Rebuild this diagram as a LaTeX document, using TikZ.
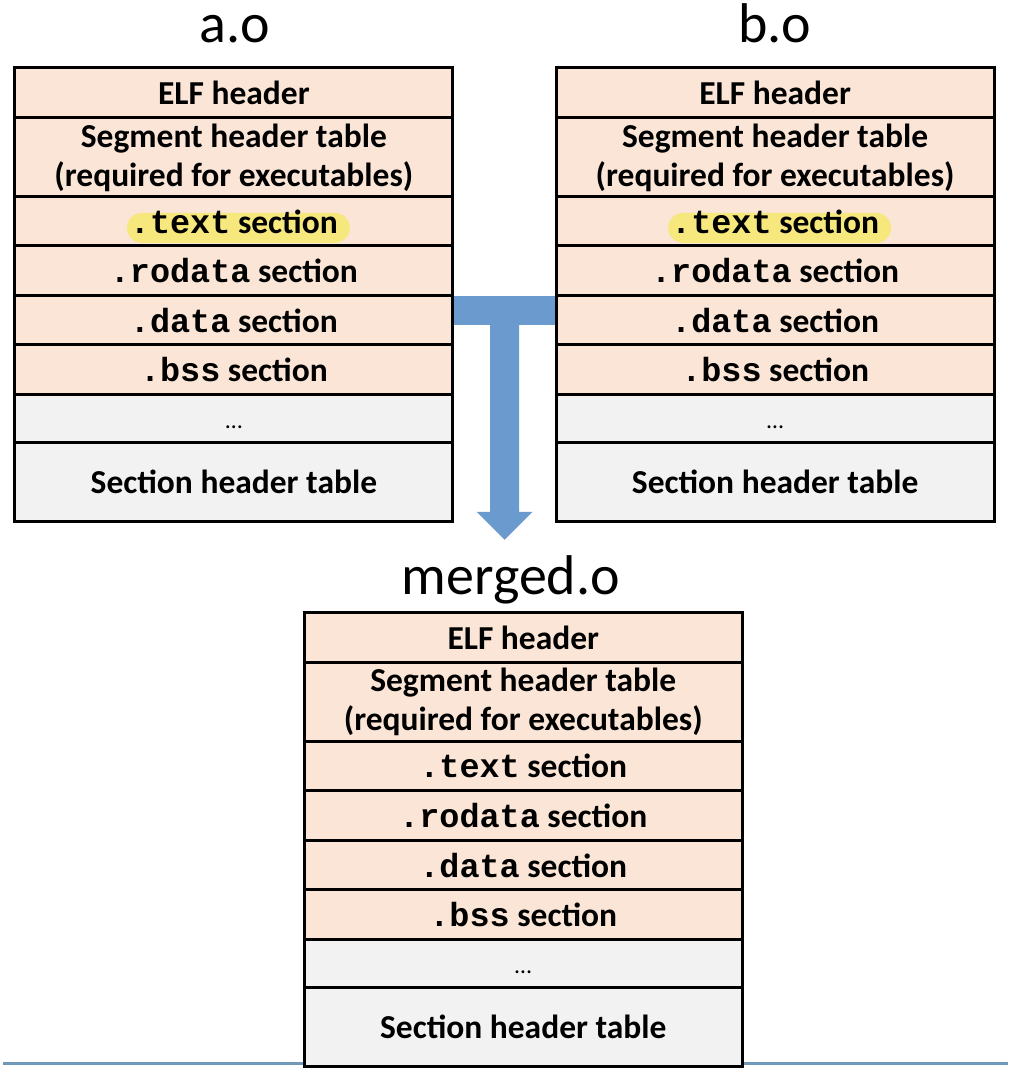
\documentclass[tikz,border=0pt]{standalone}
\usepackage{fontspec}
\setmainfont{Carlito}
\newfontfamily\monofnt{Liberation Mono}
\usetikzlibrary{positioning,calc}

\definecolor{secpink}{RGB}{250,229,214}
\definecolor{secgray}{RGB}{242,242,242}
\definecolor{hlyellow}{RGB}{246,232,124}
\definecolor{mergeblue}{RGB}{106,154,206}
\definecolor{ruleblue}{RGB}{112,152,184}
\newcommand{\code}[1]{{\monofnt\bfseries #1}}

\begin{document}
\begin{tikzpicture}[x=1pt,y=-1pt,
  sec/.style={draw=black, line width=3pt, fill=secpink, minimum width=438pt,
    inner sep=0pt, outer sep=0pt, align=center,
    font=\fontsize{33.5}{39}\selectfont\bfseries},
  misc/.style={sec, fill=secgray},
  hl/.style={path picture={\fill[hlyellow, rounded corners=15pt]
    ([xshift=-107pt,yshift=8.5pt]path picture bounding box.center) rectangle
    ([xshift=116pt,yshift=-21.5pt]path picture bounding box.center);}},
  title/.style={anchor=base, font=\fontsize{56}{60}\selectfont}]
				%
				% macro: object file at position, with prefix and style of .text row
				\newcommand{\elfbox}[4]{
				  \node[sec, minimum height=50pt, anchor=north] (#1-elf) at (#2,#3) {ELF header};
				  \node[sec, minimum height=79pt, below=0pt of #1-elf] (#1-seg) {Segment header table\\(required for executables)};
				  \node[sec, minimum height=49pt, below=0pt of #1-seg, #4] (#1-text) {\code{.text} section};
				  \node[sec, minimum height=50pt, below=0pt of #1-text] (#1-ro) {\code{.rodata} section};
				  \node[sec, minimum height=49pt, below=0pt of #1-ro] (#1-data) {\code{.data} section};
				  \node[sec, minimum height=50pt, below=0pt of #1-data] (#1-bss) {\code{.bss} section};
				  \node[misc, minimum height=48pt, text height=20pt, text depth=0pt, below=0pt of #1-bss] (#1-dots) {\mdseries\fontsize{24}{24}\selectfont …};
				  \node[misc, minimum height=79pt, below=0pt of #1-dots] (#1-sht) {Section header table};
				}
				%
				\node[title] (a-name) at (235,43) {a.o};
				\node[title] (b-name) at (775,43) {b.o};
				\node[title] (m-name) at (511,595) {merged.o};
				%
				\draw[ruleblue, line width=3pt] (3,1064) -- (1008,1064);
				%
				\elfbox{a}{234}{68}{hl}
				\elfbox{b}{775.5}{68}{hl}
				\elfbox{m}{523.5}{613}{}
				%
				% merge arrow
				\fill[mergeblue] ([xshift=1.5pt]a-data.north east) rectangle ([xshift=-1.5pt,yshift=-29pt]b-data.north west);
				\fill[mergeblue] ($(a-data.north east)!.5!(b-data.north west)$) ++(-14.5,29) -- ++(0,187) -- ++(-13.5,0)
				  -- ++(28,28) -- ++(28,-28) -- ++(-13.5,0) -- ++(0,-187) -- cycle;
				%
				\useasboundingbox (0,0) rectangle (1008,1068);
			\end{tikzpicture}
\end{document}
